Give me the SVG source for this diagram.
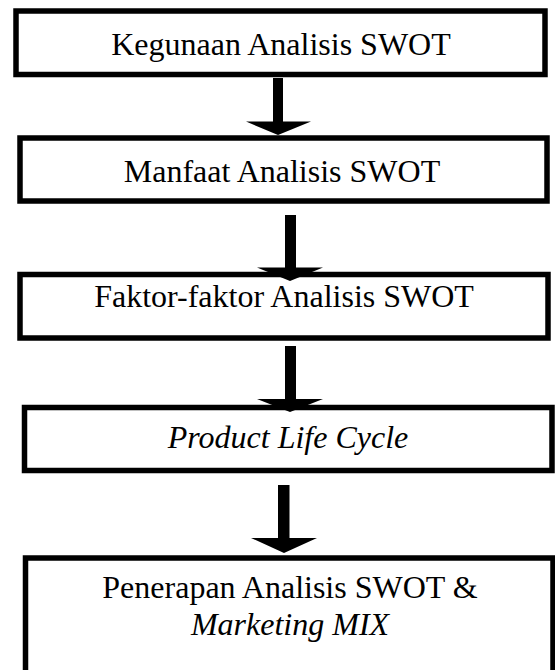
<svg xmlns="http://www.w3.org/2000/svg" width="555" height="670" viewBox="0 0 555 670">
<style>
.box{fill:#fff;stroke:#000;stroke-width:5.5}
text{font-family:'Liberation Serif','Times New Roman',serif;font-size:32px;fill:#000;text-anchor:middle}
.i{font-style:italic}
.arr{fill:#000}
</style>
<rect width="555" height="670" fill="#fff"/>
<g id="n1"><rect class="box" x="16" y="11" width="529" height="63.5"/><text x="281" y="55">Kegunaan Analisis SWOT</text></g>
<g id="n2"><rect class="box" x="20" y="138" width="527" height="63"/><text x="282" y="182">Manfaat Analisis SWOT</text></g>
<g id="n3"><rect class="box" x="20" y="274.5" width="528" height="63.5"/><text x="284" y="307">Faktor-faktor Analisis SWOT</text></g>
<g id="n4"><rect class="box" x="24.5" y="407.5" width="527.5" height="63"/><text class="i" x="288" y="448">Product Life Cycle</text></g>
<g id="n5"><rect class="box" x="25.5" y="558" width="527.5" height="120"/><text x="290" y="598">Penerapan Analisis SWOT &amp;</text><text class="i" x="290" y="635">Marketing MIX</text></g>
<g id="connectors">
<polygon class="arr" points="273,78 283,78 283,121.5 311,121.5 278,135 246,121.5 273,121.5"/>
<polygon class="arr" points="285,215 296,215 296,267.5 323,267.5 290,281 257,267.5 285,267.5"/>
<polygon class="arr" points="285,346 296,346 296,399 323,399 290,412 257,399 285,399"/>
<polygon class="arr" points="278,485 289.5,485 289.5,538 317,538 284,553 251,538 278,538"/>
</g>
</svg>
